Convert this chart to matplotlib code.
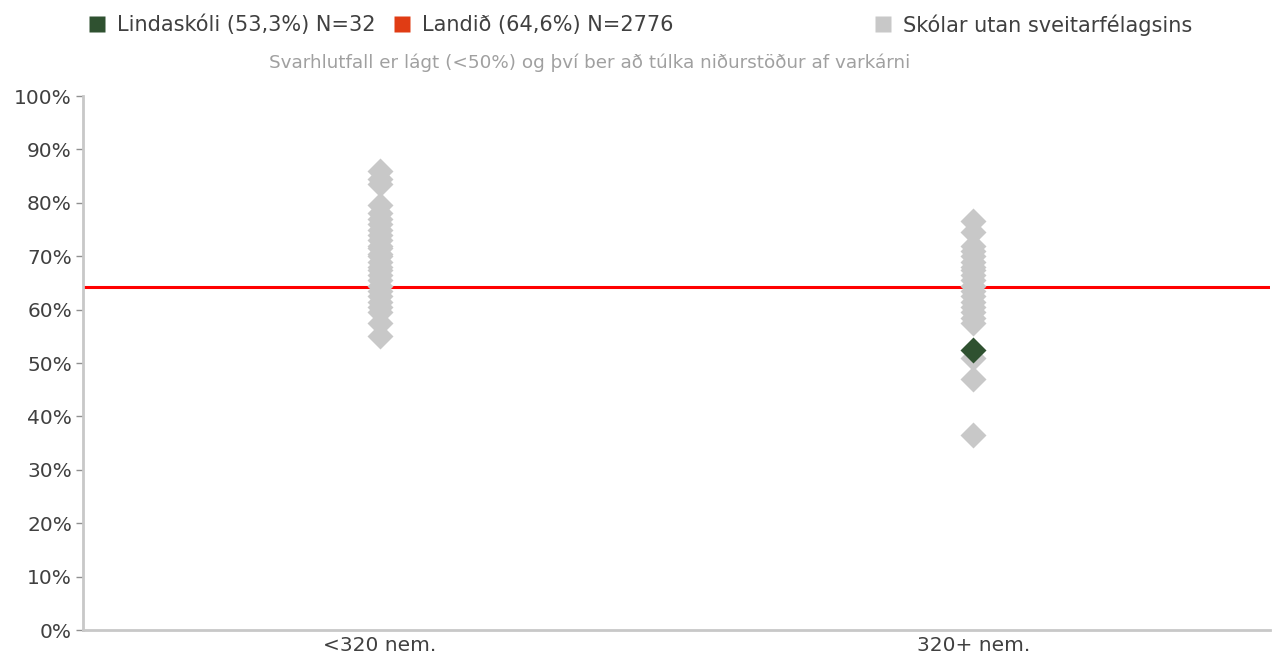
import matplotlib
matplotlib.use("Agg")
import matplotlib.pyplot as plt
from matplotlib.lines import Line2D

plt.rcParams['font.family'] = ['DejaVu Sans']

categories = ["<320 nem.", "320+ nem."]
others_small = [86.0, 84.5, 83.5, 79.5, 78.0, 77.0, 76.0, 75.0, 74.0, 73.0, 72.0, 71.5,
                70.5, 70.0, 69.0, 68.0, 67.5, 66.5, 65.5, 64.5, 63.5, 62.5, 61.5, 60.5,
                59.5, 57.5, 55.0]
others_large = [76.5, 74.5, 72.0, 71.0, 70.0, 69.0, 68.0, 67.5, 66.5, 65.5, 64.5, 63.5,
                62.5, 61.5, 60.5, 59.5, 58.5, 57.5, 51.0, 47.0, 36.5]
school_cat = 1
school_value = 52.4
national_value = 64.3
legend_labels = ["Lindaskóli (53,3%) N=32", "Landið (64,6%) N=2776", "Skólar utan sveitarfélagsins"]
subtitle = "Svarhlutfall er lágt (<50%) og því ber að túlka niðurstöður af varkárni"
yticks = list(range(0, 101, 10))

GRAY = "#c8c8c8"
GREEN = "#2f5130"
RED = "#ff0000"
LEG_RED = "#e03c14"
TXT = "#404040"

fig = plt.figure(figsize=(12.77, 6.59), dpi=100)
ax = fig.add_axes([83/1277, 1-630/659, (1270-83)/1277, (630-96)/659])

ax.axhline(national_value, color=RED, lw=2.2, zorder=1)
ax.plot([0]*len(others_small), others_small, ls='none', marker='D', ms=13,
        color=GRAY, mec='none', zorder=2)
ax.plot([1]*len(others_large), others_large, ls='none', marker='D', ms=13,
        color=GRAY, mec='none', zorder=2)
ax.plot([school_cat], [school_value], ls='none', marker='D', ms=13,
        color=GREEN, mec='none', zorder=3)

ax.set_xlim(-0.5, 1.5)
ax.set_ylim(0, 100)
ax.set_xticks([0, 1])
ax.set_xticklabels(categories, fontsize=14.5, color=TXT)
ax.tick_params(axis='x', length=0, pad=4)
ax.set_yticks(yticks)
ax.set_yticklabels([f"{v}%" for v in yticks], fontsize=14.5, color=TXT)
ax.tick_params(axis='y', length=5, width=1, color="#909090", pad=3)
for s in ['top', 'right']:
    ax.spines[s].set_visible(False)
for s in ['left', 'bottom']:
    ax.spines[s].set_color(GRAY)
    ax.spines[s].set_linewidth(2)

colors = [GREEN, LEG_RED, GRAY]
xpos = [78/1277, 383/1277, 864/1277]
for lab, c, x in zip(legend_labels, colors, xpos):
    h = Line2D([], [], ls='none', marker='s', ms=11.5, color=c, mec='none')
    fig.legend([h], [lab], loc='center left', bbox_to_anchor=(x, 1-25/659),
               frameon=False, fontsize=15, handlelength=0.8, handletextpad=0.55,
               borderpad=0, labelcolor=TXT)

fig.text(590/1277, 1-63/659, subtitle, ha='center', va='center', fontsize=13.2, color="#a0a0a0")

fig.savefig("out.png", dpi=100)
